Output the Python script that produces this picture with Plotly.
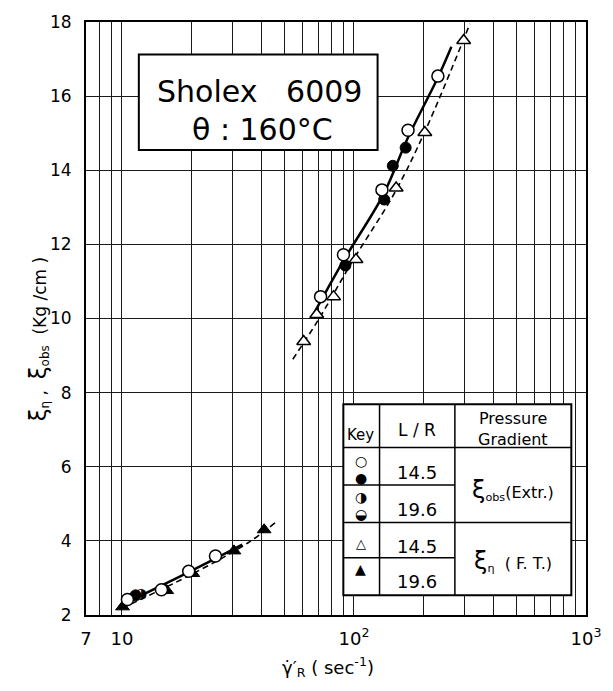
import plotly.graph_objects as go

# ---------------- data ----------------
# xi_obs (Extr.), L/R = 14.5 : open circles
obs_open_x = [71.8, 90.1, 132, 171, 230, 10.56, 14.8, 19.4, 25.3]
obs_open_y = [10.59, 11.72, 13.47, 15.08, 16.54, 2.42, 2.68, 3.18, 3.59]
# xi_obs (Extr.), L/R = 14.5 : filled circles
obs_fill_x = [91.8, 135, 147, 167, 11.45]
obs_fill_y = [11.43, 13.21, 14.12, 14.61, 2.53]
# xi_obs (Extr.), L/R = 19.6 : half-filled circles
obs_half_x = [12.1]
obs_half_y = [2.55]
# xi_eta (F.T.), L/R = 14.5 : open triangles
ft_open_x = [60.7, 69.1, 81.7, 102, 152, 202, 297]
ft_open_y = [9.38, 10.11, 10.59, 11.59, 13.52, 15.02, 17.5]
# xi_eta (F.T.), L/R = 19.6 : filled triangles
ft_fill_x = [10.06, 15.6, 20.2, 30.4, 41]
ft_fill_y = [2.22, 2.66, 3.12, 3.73, 4.3]

# fitted curves
obs_curve_hi_x = [65.8, 90.5, 134, 170, 230, 263]
obs_curve_hi_y = [10.03, 11.58, 13.35, 14.85, 16.5, 17.33]
ft_curve_hi_x = [54.5, 70, 98.6, 150, 204, 316]
ft_curve_hi_y = [8.9, 9.95, 11.55, 13.4, 15.1, 17.95]
obs_curve_lo_x = [10.0, 20, 33]
obs_curve_lo_y = [2.28, 3.2, 3.9]
ft_curve_lo_x = [10.0, 20, 35, 47]
ft_curve_lo_y = [2.18, 3.1, 3.95, 4.55]

x_tick_vals = [7, 10, 100, 1000]
x_tick_text = ["7", "10", "10<sup>2</sup>", "10<sup>3</sup>"]
x_minor_vals = [8, 9, 20, 30, 40, 50, 60, 70, 80, 90,
                200, 300, 400, 500, 600, 700, 800, 900]
y_tick_vals = [2, 4, 6, 8, 10, 12, 14, 16, 18]

# ---------------- geometry helpers (pixel -> paper) ----------------
L, R, T, B = 86, 597, 13, 615
W, H = 613, 691
def px(x):
    return (x - L) / (R - L)
def py(y):
    return (B - y) / (B - T)

FONT = "DejaVu Sans"
GRID = "#1a1a1a"
fig = go.Figure()

fig.add_trace(go.Scatter(x=obs_curve_hi_x, y=obs_curve_hi_y, mode="lines",
                         line=dict(color="black", width=2.5, shape="spline"), showlegend=False))
fig.add_trace(go.Scatter(x=ft_curve_hi_x, y=ft_curve_hi_y, mode="lines",
                         line=dict(color="black", width=1.6, dash="6px,4px", shape="spline"), showlegend=False))
fig.add_trace(go.Scatter(x=obs_curve_lo_x, y=obs_curve_lo_y, mode="lines",
                         line=dict(color="black", width=2.5, shape="spline"), showlegend=False))
fig.add_trace(go.Scatter(x=ft_curve_lo_x, y=ft_curve_lo_y, mode="lines",
                         line=dict(color="black", width=1.6, dash="6px,4px", shape="spline"), showlegend=False))

fig.add_trace(go.Scatter(x=ft_open_x, y=ft_open_y, mode="markers",
                         marker=dict(symbol="triangle-up", size=12, color="white",
                                     line=dict(color="black", width=1.5)), showlegend=False))
fig.add_trace(go.Scatter(x=ft_fill_x, y=ft_fill_y, mode="markers",
                         marker=dict(symbol="triangle-up", size=12, color="black",
                                     line=dict(color="black", width=1)), showlegend=False))
fig.add_trace(go.Scatter(x=obs_fill_x, y=obs_fill_y, mode="markers",
                         marker=dict(symbol="circle", size=11, color="black",
                                     line=dict(color="black", width=1)), showlegend=False))
fig.add_trace(go.Scatter(x=obs_open_x, y=obs_open_y, mode="markers",
                         marker=dict(symbol="circle", size=12, color="white",
                                     line=dict(color="black", width=1.5)), showlegend=False))
fig.add_trace(go.Scatter(x=obs_half_x, y=obs_half_y, mode="text", text=["◑"] * len(obs_half_x),
                         textfont=dict(family=FONT, size=14, color="black"), showlegend=False))

shapes = []
# title box
shapes.append(dict(type="rect", xref="paper", yref="paper", layer="above",
                   x0=px(140), x1=px(384), y0=py(143), y1=py(46),
                   fillcolor="white", line=dict(color="black", width=2)))
# key table
tl, tc1, tc2, tr = px(349), px(386), px(463), px(582)
shapes.append(dict(type="rect", xref="paper", yref="paper", layer="above",
                   x0=tl, x1=tr, y0=py(595), y1=py(401),
                   fillcolor="white", line=dict(color="black", width=2)))
for xx in (tc1, tc2):
    shapes.append(dict(type="line", xref="paper", yref="paper", layer="above",
                       x0=xx, x1=xx, y0=py(595), y1=py(401), line=dict(color="black", width=1.5)))
for yy in (445, 521):
    shapes.append(dict(type="line", xref="paper", yref="paper", layer="above",
                       x0=tl, x1=tr, y0=py(yy), y1=py(yy), line=dict(color="black", width=1.5)))
for yy in (483, 557):
    shapes.append(dict(type="line", xref="paper", yref="paper", layer="above",
                       x0=tl, x1=tc2, y0=py(yy), y1=py(yy), line=dict(color="black", width=1.5)))

ann = []
def A(x, y, text, size=17, **kw):
    d = dict(x=px(x), y=py(y), xref="paper", yref="paper", text=text, showarrow=False,
             xanchor="center", yanchor="middle", font=dict(family=FONT, size=size, color="black"))
    d.update(kw)
    ann.append(d)

A(263, 84, "Sholex   6009", 30)
A(266, 122, "θ : 160°C", 30)

A(367, 432, "Key", 15)
A(424, 427, "L / R", 17)
A(522, 416, "Pressure", 16)
A(522, 437, "Gradient", 16)
A(367, 459, "○", 14)
A(367, 476, "●", 14)
A(367, 495, "◑", 14)
A(367, 512, "◒", 14)
A(367, 542, "△", 13)
A(367, 568, "▲", 14)
A(424, 470, "14.5", 18)
A(424, 508, "19.6", 18)
A(424, 545, "14.5", 18)
A(424, 581, "19.6", 18)
A(522, 488, "<span style='font-size:24px'>ξ</span><sub>obs</sub>(Extr.)", 16)
A(522, 560, "<span style='font-size:24px'>ξ</span><sub>η</sub>  ( F. T.)", 16)

# axis titles
A(38, 335, "<span style='font-size:23px'>ξ</span><sub>η</sub> ,  <span style='font-size:23px'>ξ</span><sub>obs</sub>  (Kg /cm )",
  17, textangle=-90)
A(333, 668, "γ̇′<sub>R</sub> ( sec<sup>-1</sup>)", 18)

fig.update_layout(
    width=W, height=H,
    margin=dict(l=L, r=W - R, t=T, b=H - B, pad=0),
    paper_bgcolor="white", plot_bgcolor="white",
    shapes=shapes, annotations=ann, showlegend=False,
    font=dict(family=FONT, color="black"),
)
fig.update_xaxes(type="log", range=[0.84510, 3.0], tickmode="array",
                 tickvals=x_tick_vals, ticktext=x_tick_text,
                 showgrid=True, gridcolor=GRID, gridwidth=1, zeroline=False,
                 minor=dict(tickmode="array", tickvals=x_minor_vals, showgrid=True,
                            gridcolor=GRID, gridwidth=1, ticks=""),
                 showline=True, linecolor="black", linewidth=2, mirror=True, ticks="",
                 tickfont=dict(family=FONT, size=18, color="black"), ticklabelstandoff=6)
fig.update_yaxes(range=[2, 18], tickmode="array", tickvals=y_tick_vals,
                 showgrid=True, gridcolor=GRID, gridwidth=1, zeroline=False,
                 showline=True, linecolor="black", linewidth=2, mirror=True, ticks="",
                 tickfont=dict(family=FONT, size=17, color="black"), ticklabelstandoff=9)

fig.write_html("out.html")
